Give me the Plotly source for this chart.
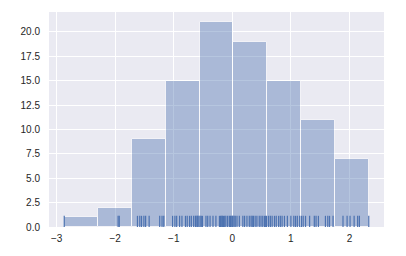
import numpy as np
import plotly.graph_objects as go

values = [
    -2.87,
    -1.95, -1.93,
    -1.62, -1.58, -1.55, -1.51, -1.48, -1.42, -1.24, -1.20, -1.17,
    -1.02, -0.98, -0.95, -0.90, -0.86, -0.80, -0.77, -0.73, -0.70, -0.66,
    -0.63, -0.62, -0.60, -0.59, -0.57,
    -0.55, -0.53, -0.51, -0.45, -0.42, -0.38, -0.33, -0.28, -0.22, -0.20,
    -0.18, -0.17, -0.15, -0.13, -0.11, -0.08, -0.05, -0.03, -0.02, 0.00, 0.01,
    0.03, 0.05, 0.08, 0.12, 0.18, 0.21, 0.25, 0.29, 0.32, 0.34, 0.36, 0.39,
    0.42, 0.46, 0.49, 0.52, 0.55, 0.57, 0.585,
    0.62, 0.65, 0.68, 0.72, 0.75, 0.79, 0.82, 0.85, 0.89, 0.94, 1.00, 1.05,
    1.08, 1.11, 1.15,
    1.18, 1.21, 1.25, 1.32, 1.40, 1.43, 1.47, 1.59, 1.63, 1.66, 1.72,
    1.89, 1.96, 2.01, 2.08, 2.14, 2.17, 2.33,
]
n_bins = 9
x_ticks = [-3, -2, -1, 0, 1, 2]
y_ticks = [0, 2.5, 5, 7.5, 10, 12.5, 15, 17.5, 20]

vals = np.array(values)
counts, edges = np.histogram(vals, bins=n_bins)
centers = (edges[:-1] + edges[1:]) / 2
width = edges[1] - edges[0]

y_max = counts.max() * 1.05
rug_h = 0.052 * y_max

rug_x, rug_y = [], []
for v in values:
    rug_x += [v, v, None]
    rug_y += [0, rug_h, None]

blue = "#4c72b0"
fig = go.Figure()
fig.add_trace(go.Bar(
    x=centers, y=counts, width=width,
    marker=dict(color=blue, opacity=0.4, line=dict(color="white", width=1)),
    showlegend=False, hoverinfo="skip",
))
fig.add_trace(go.Scatter(
    x=rug_x, y=rug_y, mode="lines",
    line=dict(color=blue, width=1.2), showlegend=False, hoverinfo="skip",
))

span = edges[-1] - edges[0]
fig.update_layout(
    width=406, height=256,
    margin=dict(l=49, r=22, t=12, b=27),
    paper_bgcolor="white", plot_bgcolor="#EAEAF2",
    font=dict(family="Liberation Sans, Arial, sans-serif", size=10, color="#262626"),
    bargap=0,
)
fig.update_xaxes(
    range=[edges[0] - 0.05 * span, edges[-1] + 0.05 * span],
    tickvals=x_ticks, showgrid=True, gridcolor="white", gridwidth=1,
    zeroline=False, showline=False, ticks="", ticklen=0, ticklabelstandoff=4,
)
fig.update_yaxes(
    range=[0, y_max], tickvals=y_ticks, tickformat=".1f",
    showgrid=True, gridcolor="white", gridwidth=1,
    zeroline=False, showline=False, ticks="", ticklen=0, ticklabelstandoff=8,
)
fig.write_html("out.html")
